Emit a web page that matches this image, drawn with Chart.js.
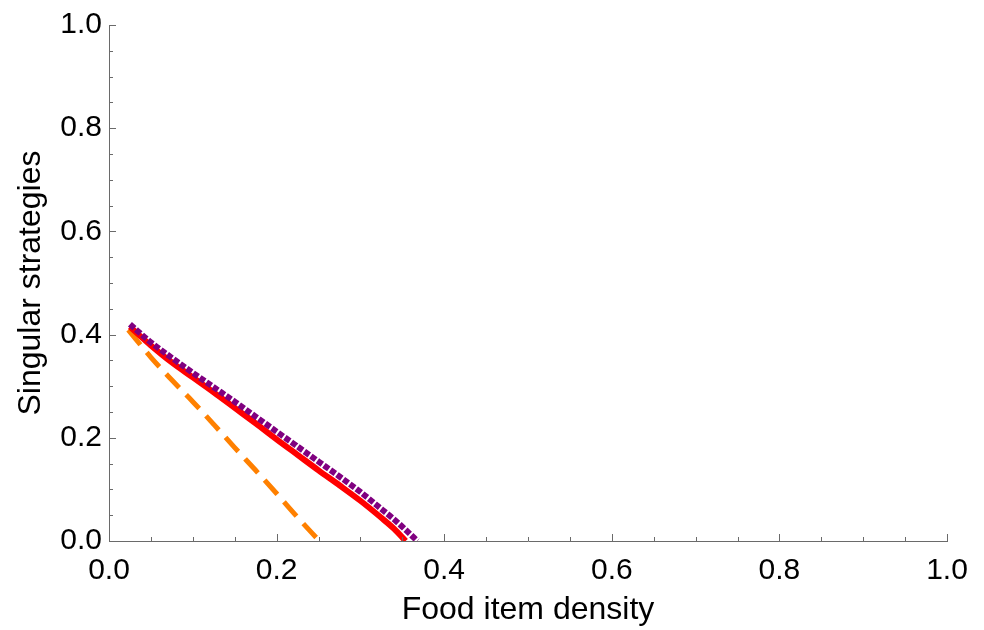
<!DOCTYPE html>
<html>
<head>
<meta charset="utf-8">
<script src="https://cdn.jsdelivr.net/npm/chart.js@4.4.1/dist/chart.umd.min.js"></script>
<style>
  html, body { margin: 0; padding: 0; background: #fff; }
  #wrap { width: 984px; height: 630px; }
</style>
</head>
<body>
<div id="wrap"><canvas id="c" width="984" height="630"></canvas></div>
<script>
// curves (x = food item density, y = singular strategy)
const redX = [0.025, 0.05, 0.075, 0.1, 0.125, 0.15, 0.175, 0.2, 0.225, 0.25, 0.275, 0.3, 0.325, 0.34, 0.354];
const redY = [0.415, 0.379, 0.346, 0.317, 0.288, 0.258, 0.228, 0.197, 0.167, 0.137, 0.108, 0.078, 0.045, 0.024, 0.0];

const purpleX = [0.025, 0.05, 0.075, 0.1, 0.125, 0.15, 0.175, 0.2, 0.225, 0.25, 0.275, 0.3, 0.325, 0.343, 0.355, 0.368];
const purpleY = [0.420, 0.385, 0.355, 0.326, 0.298, 0.270, 0.241, 0.212, 0.183, 0.154, 0.125, 0.095, 0.062, 0.038, 0.020, 0.0];

const orangeX = [0.023, 0.05, 0.075, 0.1, 0.125, 0.15, 0.175, 0.2, 0.225, 0.251];
const orangeY = [0.409, 0.356, 0.312, 0.270, 0.226, 0.181, 0.137, 0.092, 0.046, 0.0];

const majorTicks = [0, 0.2, 0.4, 0.6, 0.8, 1.0];
const minorTicks = [0.05, 0.1, 0.15, 0.25, 0.3, 0.35, 0.45, 0.5, 0.55, 0.65, 0.7, 0.75, 0.85, 0.9, 0.95];

const toPts = (xs, ys) => xs.map((x, i) => ({ x: x, y: ys[i] }));
const FONT = '"Liberation Sans", Arial, sans-serif';
const AXIS_COLOR = '#6a6a6a';

// inward tick marks, Mathematica style
const innerTicks = {
  id: 'innerTicks',
  afterDraw(chart) {
    const ctx = chart.ctx;
    const xs = chart.scales.x, ys = chart.scales.y;
    const bottom = ys.getPixelForValue(0);
    const left = xs.getPixelForValue(0);
    ctx.save();
    ctx.strokeStyle = AXIS_COLOR;
    ctx.lineWidth = 1;
    const draw = (v, len) => {
      const px = Math.round(xs.getPixelForValue(v)) + 0.5;
      ctx.beginPath(); ctx.moveTo(px, bottom); ctx.lineTo(px, bottom - len); ctx.stroke();
      const py = Math.round(ys.getPixelForValue(v)) + 0.5;
      ctx.beginPath(); ctx.moveTo(left, py); ctx.lineTo(left + len, py); ctx.stroke();
    };
    majorTicks.forEach(v => draw(v, 7));
    minorTicks.forEach(v => draw(v, 4));
    ctx.restore();
  }
};

// chart.js paints dataset 0 last, so purple (on top) comes first
new Chart(document.getElementById('c'), {
  type: 'scatter',
  data: {
    datasets: [
      {
        label: 'purple',
        data: toPts(purpleX, purpleY),
        showLine: true,
        borderColor: '#800080',
        borderWidth: 6,
        borderDash: [6, 2],
        pointRadius: 0,
        cubicInterpolationMode: 'monotone'
      },
      {
        label: 'red',
        data: toPts(redX, redY),
        showLine: true,
        borderColor: '#ff0000',
        borderWidth: 6,
        pointRadius: 0,
        cubicInterpolationMode: 'monotone'
      },
      {
        label: 'orange',
        data: toPts(orangeX, orangeY),
        showLine: true,
        borderColor: '#ff8000',
        borderWidth: 5,
        borderDash: [19, 10],
        pointRadius: 0,
        cubicInterpolationMode: 'monotone'
      }
    ]
  },
  options: {
    responsive: false,
    animation: false,
    layout: { padding: { top: 21, right: 37, left: 0, bottom: 0 } },
    plugins: { legend: { display: false }, tooltip: { enabled: false } },
    scales: {
      x: {
        type: 'linear', min: 0, max: 1,
        afterFit: s => { s.height = 89; },
        border: { display: true, color: AXIS_COLOR, width: 1 },
        grid: { display: false, drawTicks: false },
        ticks: {
          stepSize: 0.2, padding: 12, color: '#000',
          font: { family: FONT, size: 30 },
          callback: v => v.toFixed(1)
        },
        title: {
          display: true, text: 'Food item density', color: '#000',
          font: { family: FONT, size: 32 },
          padding: { top: 0, bottom: 1 }
        }
      },
      y: {
        type: 'linear', min: 0, max: 1,
        afterFit: s => { s.width = 109; },
        border: { display: true, color: AXIS_COLOR, width: 1 },
        grid: { display: false, drawTicks: false },
        ticks: {
          stepSize: 0.2, padding: 7, color: '#000',
          font: { family: FONT, size: 30 },
          callback: v => v.toFixed(1)
        },
        title: {
          display: true, text: 'Singular strategies', color: '#000',
          font: { family: FONT, size: 32 },
          padding: { top: 12, bottom: 0 }
        }
      }
    }
  },
  plugins: [innerTicks]
});
</script>
</body>
</html>
